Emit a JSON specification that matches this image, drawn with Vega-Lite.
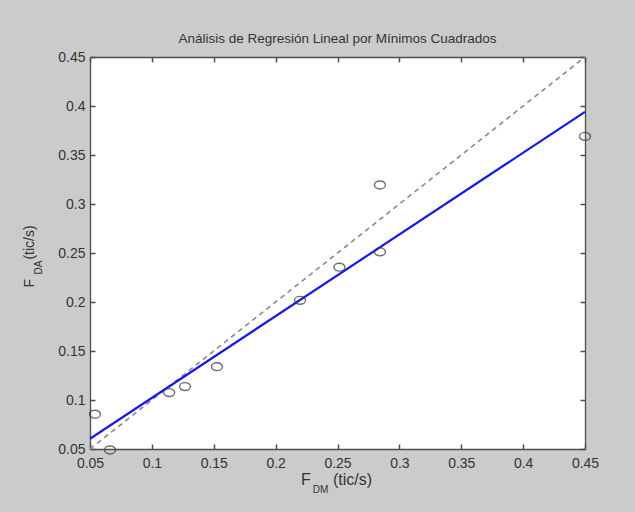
{
  "$schema": "https://vega.github.io/schema/vega-lite/v6.json",
  "width": 495,
  "height": 392,
  "autosize": {"type": "none"},
  "padding": {"left": 90, "top": 57, "right": 50, "bottom": 63},
  "background": "#cbcbcb",
  "config": {
    "font": "Liberation Sans",
    "view": {"fill": "white", "stroke": null},
    "axis": {
      "grid": false,
      "domainColor": "#4d4d4d",
      "tickColor": "#4d4d4d",
      "domainWidth": 1.3,
      "tickWidth": 1.5,
      "tickSize": -5,
      "ticks": true,
      "labelFlush": false,
      "labelColor": "#333333",
      "labelFont": "Liberation Sans",
      "labelFontSize": 14,
      "titleColor": "#333333",
      "titleFont": "Liberation Sans",
      "titleFontWeight": "normal"
    }
  },
  "title": {
    "text": "Análisis de Regresión Lineal por Mínimos Cuadrados",
    "fontSize": 13.5,
    "fontWeight": "normal",
    "color": "#333333",
    "font": "Liberation Sans",
    "anchor": "middle",
    "offset": 5
  },
  "resolve": {"axis": {"x": "independent", "y": "independent"}},
  "layer": [
    {
      "data": {"values": [{"fdm": 0.05, "fda": 0.05}, {"fdm": 0.45, "fda": 0.45}]},
      "mark": {"type": "line", "color": "#8a8a8a", "strokeWidth": 1.6, "strokeDash": [5, 4]},
      "encoding": {
        "x": {
          "field": "fdm", "type": "quantitative",
          "scale": {"domain": [0.05, 0.45], "nice": false, "zero": false},
          "axis": {
            "orient": "bottom",
            "values": [0.05, 0.1, 0.15, 0.2, 0.25, 0.3, 0.35, 0.4, 0.45],
            "format": ".2~f",
            "tickSize": -5,
            "labelPadding": 12,
            "title": "F\u00a0\u00a0\u00a0\u00a0\u00a0(tic/s)",
            "titleFontSize": 16,
            "titleX": 246,
            "titleY": 35,
            "titleAlign": "center",
            "titleBaseline": "alphabetic"
          }
        },
        "y": {
          "field": "fda", "type": "quantitative",
          "scale": {"domain": [0.05, 0.45], "nice": false, "zero": false},
          "axis": {
            "orient": "left",
            "values": [0.05, 0.1, 0.15, 0.2, 0.25, 0.3, 0.35, 0.4, 0.45],
            "format": ".2~f",
            "tickSize": -5,
            "labelPadding": 10,
            "title": "F\u00a0\u00a0\u00a0\u00a0\u00a0(tic/s)",
            "titleFontSize": 14,
            "titleAngle": 270,
            "titleX": -57,
            "titleY": 199,
            "titleAlign": "center",
            "titleBaseline": "alphabetic"
          }
        }
      }
    },
    {
      "data": {"values": [{"fdm": 0.05, "fda": 0.0605}, {"fdm": 0.45, "fda": 0.394}]},
      "mark": {"type": "line", "color": "#1818e6", "strokeWidth": 2.2},
      "encoding": {
        "x": {
          "field": "fdm", "type": "quantitative",
          "scale": {"domain": [0.05, 0.45], "nice": false, "zero": false},
          "axis": {
            "orient": "top",
            "values": [0.05, 0.1, 0.15, 0.2, 0.25, 0.3, 0.35, 0.4, 0.45],
            "labels": false,
            "tickSize": -5,
            "title": "DM",
            "titleFontSize": 10,
            "titleX": 230,
            "titleY": 435,
            "titleAlign": "center",
            "titleBaseline": "alphabetic"
          }
        },
        "y": {
          "field": "fda", "type": "quantitative",
          "scale": {"domain": [0.05, 0.45], "nice": false, "zero": false},
          "axis": {
            "orient": "right",
            "values": [0.05, 0.1, 0.15, 0.2, 0.25, 0.3, 0.35, 0.4, 0.45],
            "labels": false,
            "tickSize": -5,
            "title": "DA",
            "titleFontSize": 10,
            "titleAngle": 270,
            "titleX": -544,
            "titleY": 210,
            "titleAlign": "center",
            "titleBaseline": "alphabetic"
          }
        }
      }
    },
    {
      "data": {
        "values": [
          {"fdm": 0.054, "fda": 0.0855},
          {"fdm": 0.0662, "fda": 0.049},
          {"fdm": 0.114, "fda": 0.1076},
          {"fdm": 0.1268, "fda": 0.1137},
          {"fdm": 0.1526, "fda": 0.134},
          {"fdm": 0.2197, "fda": 0.2017},
          {"fdm": 0.2515, "fda": 0.2355},
          {"fdm": 0.2843, "fda": 0.3194},
          {"fdm": 0.2843, "fda": 0.2512},
          {"fdm": 0.45, "fda": 0.369}
        ]
      },
      "mark": {
        "type": "point",
        "filled": false,
        "shape": "M-1,0A1,0.72 0 1,0 1,0A1,0.72 0 1,0 -1,0Z",
        "size": 121,
        "stroke": "#333333",
        "strokeWidth": 1.4,
        "clip": false
      },
      "encoding": {
        "x": {"field": "fdm", "type": "quantitative", "scale": {"domain": [0.05, 0.45], "nice": false, "zero": false}, "axis": null},
        "y": {"field": "fda", "type": "quantitative", "scale": {"domain": [0.05, 0.45], "nice": false, "zero": false}, "axis": null}
      }
    }
  ]
}
